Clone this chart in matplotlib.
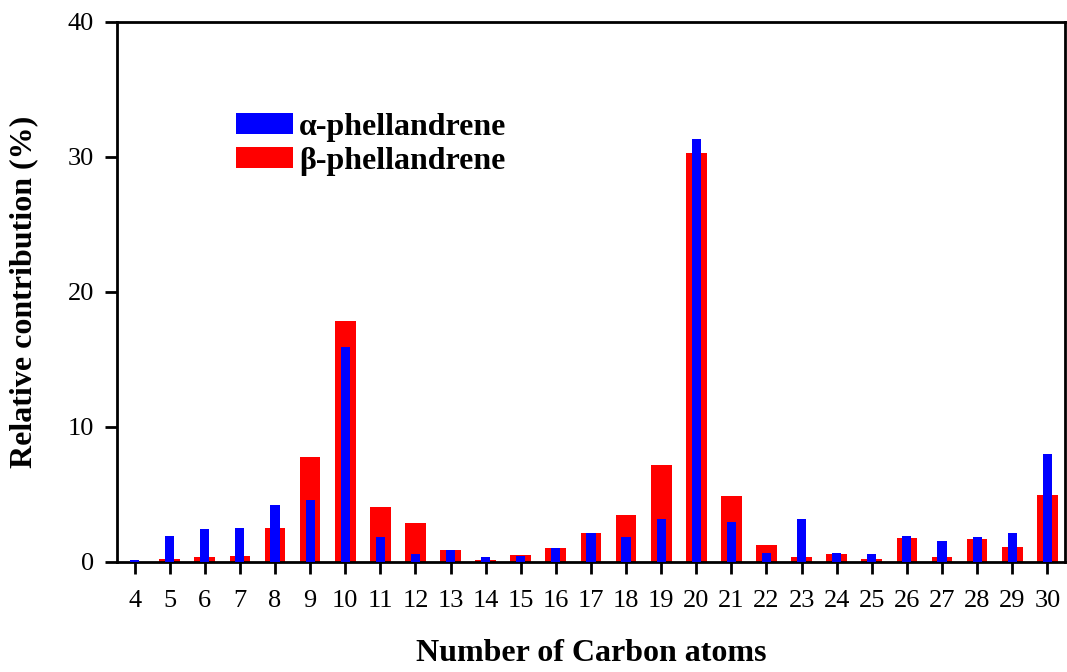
import numpy as np
import matplotlib
matplotlib.use("Agg")
import matplotlib.pyplot as plt

carbon = list(range(4, 31))
alpha = [0.15, 1.95, 2.44, 2.54, 4.22, 4.6, 15.9, 1.85, 0.6, 0.89, 0.34, 0.42, 1.0, 2.15,
         1.85, 3.19, 31.35, 2.99, 0.69, 3.19, 0.7, 0.6, 1.95, 1.56, 1.85, 2.15, 8.02]
beta = [0.0, 0.25, 0.34, 0.47, 2.54, 7.75, 17.85, 4.04, 2.89, 0.89, 0.15, 0.52, 1.0, 2.15,
        3.45, 7.16, 30.3, 4.89, 1.26, 0.34, 0.6, 0.25, 1.78, 0.34, 1.68, 1.11, 4.99]

plt.rcParams['font.family'] = ['Liberation Serif', 'DejaVu Serif']

fig = plt.figure(figsize=(10.67, 6.72), dpi=100)
ax = fig.add_axes([0.1097, 0.1637, 0.8883, 0.8036])

ax.bar(carbon, beta, width=0.59, color='#ff0000', label=r'β-phellandrene', zorder=2)
ax.bar(carbon, alpha, width=0.26, color='#0000ff', label=r'α-phellandrene', zorder=3)

ax.set_xlim(3.5, 30.5)
ax.set_ylim(0, 40)
ax.set_xticks(carbon)
ax.set_yticks([0, 10, 20, 30, 40])
ax.tick_params(axis='both', direction='out', length=8.5, width=2, labelsize=19)
ax.tick_params(axis='x', pad=12)
ax.tick_params(axis='y', pad=8)
for s in ax.spines.values():
    s.set_linewidth(2)

ax.set_ylabel('Relative contribution (%)', fontsize=23, fontweight='bold')
ax.set_xlabel('Number of Carbon atoms', fontsize=23, fontweight='bold')
ax.yaxis.set_label_coords(-0.083, 0.5)
ax.xaxis.set_label_coords(0.5, -0.143)

h, l = ax.get_legend_handles_labels()
leg = ax.legend(h[::-1], l[::-1], loc='upper left', bbox_to_anchor=(0.1255, 0.832),
                frameon=False, prop={'size': 23, 'weight': 'bold'}, borderpad=0,
                borderaxespad=0, handlelength=1.78, handleheight=0.6,
                handletextpad=0.2, labelspacing=0.16)

fig.savefig('out.png', dpi=100)
